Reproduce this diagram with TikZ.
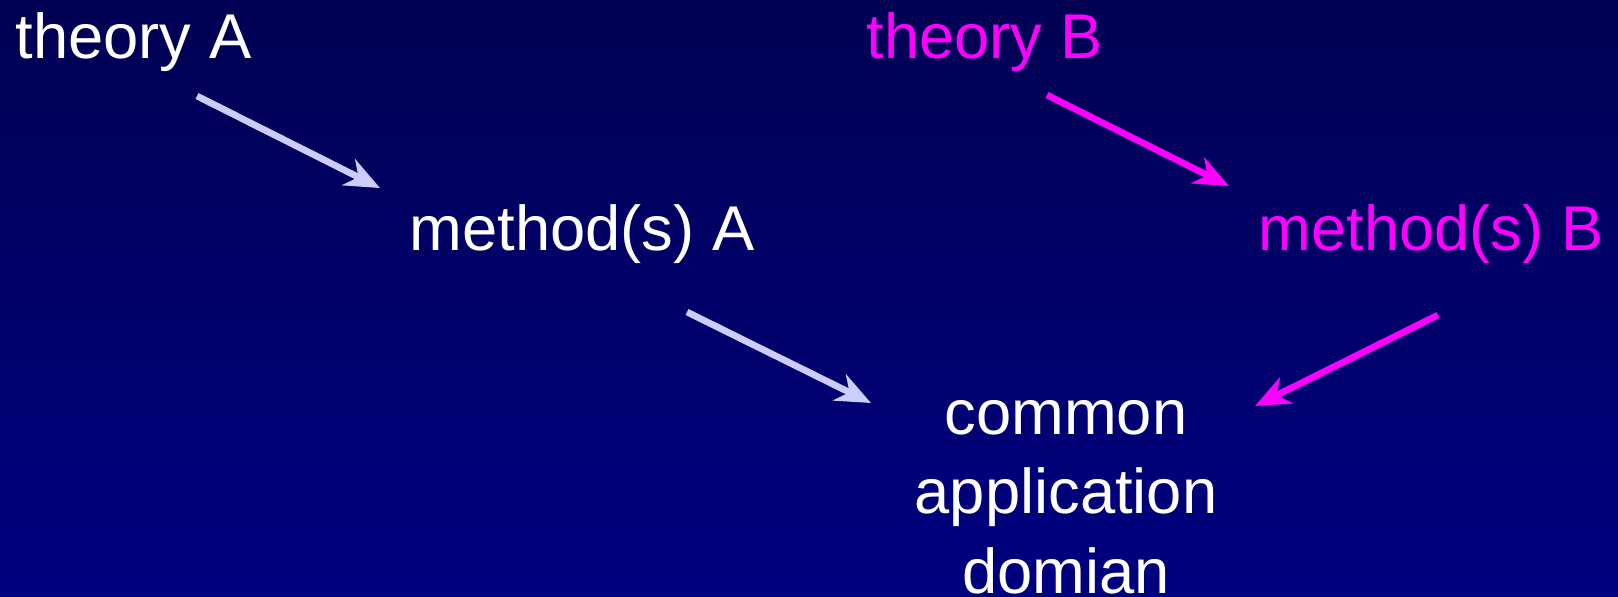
\documentclass[tikz,border=0pt]{standalone}
\usepackage{fontspec}
\setmainfont{Liberation Sans}
\usetikzlibrary{arrows.meta}
\definecolor{navytop}{RGB}{0,0,82}
\definecolor{navybot}{RGB}{0,0,128}
\definecolor{lavender}{RGB}{204,204,255}
\definecolor{magentab}{RGB}{255,0,255}
\tikzset{
  lab/.style={text=white, inner sep=0pt, anchor=base west,
              font=\fontsize{18}{22}\selectfont},
  labB/.style={lab, text=magentab},
  flow/.style={-{Stealth[length=3.5mm,width=2.9mm,inset=1.1mm]}, line width=1.9pt},
  flowA/.style={flow, lavender},
  flowB/.style={flow, magentab},
}
\begin{document}
\begin{tikzpicture}[x=0.01cm,y=-0.01cm]
  \shade[top color=navytop, bottom color=navybot] (0,0) rectangle (1618,597);
  \useasboundingbox (0,0) rectangle (1618,597);

  \node[lab]  (thA) at (15,58)   {theory A};
  \node[labB] (thB) at (866,58)  {theory B};
  \node[lab]  (mA)  at (409,250) {method(s) A};
  \node[labB] (mB)  at (1258,250) {method(s) B};
  \node[lab, anchor=base, align=center] (dom) at (1066,593)
    {common\\[0.55pt]application\\[0.55pt]domian};

  \coordinate (thA-out) at (197,96);
  \coordinate (mA-in)   at (380,188);
  \coordinate (thB-out) at (1047,95);
  \coordinate (mB-in)   at (1229,186);
  \coordinate (mA-out)  at (687,312);
  \coordinate (mB-out)  at (1438,315);
  \coordinate (domA-in) at (871,403);
  \coordinate (domB-in) at (1255,406);

  \draw[flowA] (thA-out) -- (mA-in);
  \draw[flowB] (thB-out) -- (mB-in);
  \draw[flowA] (mA-out) -- (domA-in);
  \draw[flowB] (mB-out) -- (domB-in);
\end{tikzpicture}
\end{document}
